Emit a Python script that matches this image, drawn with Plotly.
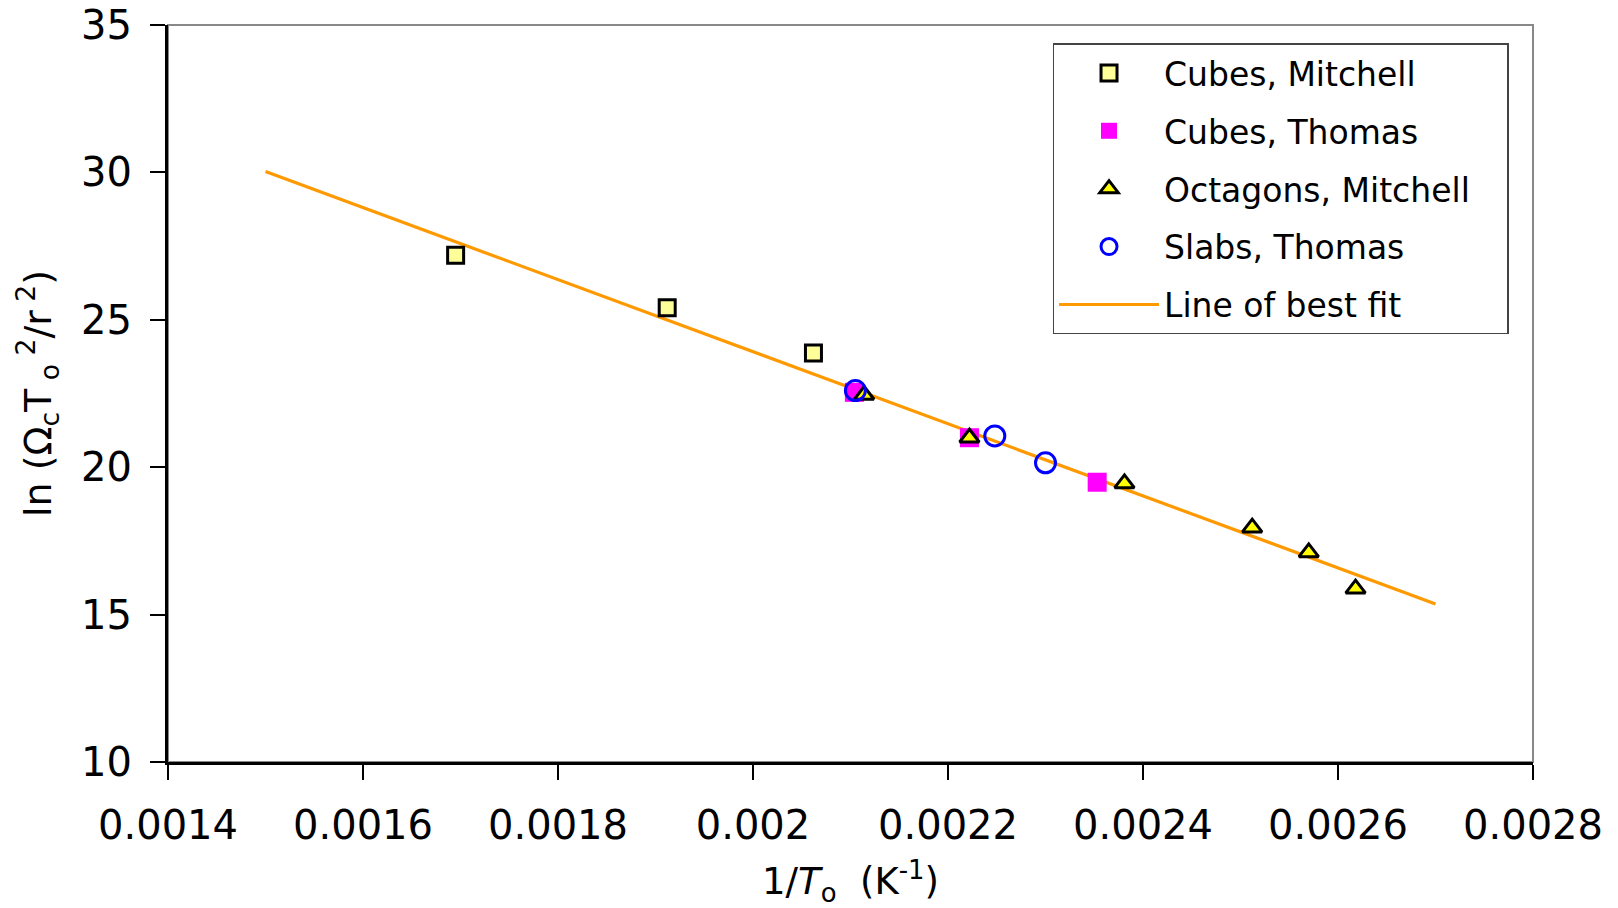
import plotly.graph_objects as go

# ---- data ----
cubes_mitchell_x = [0.001695, 0.001912, 0.002062]
cubes_mitchell_y = [27.19, 25.41, 23.87]

cubes_thomas_x = [0.002104, 0.002222, 0.002353]
cubes_thomas_y = [22.54, 21.0, 19.49]

octagons_mitchell_x = [0.002114, 0.002222, 0.002381, 0.002512, 0.002570, 0.002618]
octagons_mitchell_y = [22.45, 21.0, 19.45, 17.95, 17.11, 15.88]

slabs_thomas_x = [0.002105, 0.002248, 0.002300]
slabs_thomas_y = [22.60, 21.06, 20.15]

fit_x = [0.0015, 0.0027]
fit_y = [30.03, 15.36]

x_tickvals = [0.0014, 0.0016, 0.0018, 0.0020, 0.0022, 0.0024, 0.0026, 0.0028]
x_ticktext = ["0.0014", "0.0016", "0.0018", "0.002", "0.0022", "0.0024", "0.0026", "0.0028"]
y_tickvals = [10, 15, 20, 25, 30, 35]

FONT = "DejaVu Sans"

fig = go.Figure()

fig.add_trace(go.Scatter(
    x=fit_x, y=fit_y, mode="lines", name="Line of best fit",
    line=dict(color="#FF9900", width=3.2), legendrank=5, legendgroup="e"))

fig.add_trace(go.Scatter(
    x=cubes_mitchell_x, y=cubes_mitchell_y, mode="markers", name="Cubes, Mitchell",
    marker=dict(symbol="square", size=16, color="#FFFF99",
                line=dict(color="black", width=3)),
    legendrank=1, legendgroup="a"))

fig.add_trace(go.Scatter(
    x=cubes_thomas_x, y=cubes_thomas_y, mode="markers", name="Cubes, Thomas",
    marker=dict(symbol="square", size=19, color="#FF00FF",
                line=dict(width=0)),
    legendrank=2, legendgroup="b"))

fig.add_trace(go.Scatter(
    x=octagons_mitchell_x, y=octagons_mitchell_y, mode="markers", name="Octagons, Mitchell\u00a0\u00a0\u00a0",
    marker=dict(symbol="triangle-up", size=17, color="#FFFF00",
                line=dict(color="black", width=3)),
    legendrank=3, legendgroup="c"))

fig.add_trace(go.Scatter(
    x=slabs_thomas_x, y=slabs_thomas_y, mode="markers", name="Slabs, Thomas",
    marker=dict(symbol="circle-open", size=20, color="#0000FF",
                line=dict(color="#0000FF", width=3)),
    legendrank=4, legendgroup="d"))

# gray frame (top & right)
fig.add_shape(type="rect", xref="paper", yref="paper", x0=0, y0=0, x1=1, y1=1,
              line=dict(color="#888888", width=2), layer="below")

fig.update_layout(
    width=1618, height=908,
    margin=dict(l=168, r=85, t=25, b=146, autoexpand=False),
    paper_bgcolor="white", plot_bgcolor="white",
    font=dict(family=FONT, color="black"),
    showlegend=True,
    legend=dict(
        x=0.648, y=0.975, xanchor="left", yanchor="top",
        bgcolor="white", bordercolor="#444444", borderwidth=1.5,
        font=dict(family=FONT, size=33, color="black"),
        tracegroupgap=12, traceorder="grouped", itemwidth=100,
    ),
    xaxis=dict(
        range=[0.0014, 0.0028], tickvals=x_tickvals, ticktext=x_ticktext,
        showgrid=False, zeroline=False, automargin=False,
        showline=True, linecolor="black", linewidth=3,
        ticks="outside", ticklen=15, tickwidth=2, tickcolor="black",
        tickfont=dict(family=FONT, size=40, color="black"),
        ticklabelstandoff=11,
        title=dict(text="1/<i>T</i><sub>o</sub>  (K<sup>-1</sup>)",
                   font=dict(family=FONT, size=37, color="black"), standoff=24),
    ),
    yaxis=dict(
        range=[10, 35], tickvals=y_tickvals,
        showgrid=False, zeroline=False, automargin=False,
        showline=True, linecolor="black", linewidth=3,
        ticks="outside", ticklen=15, tickwidth=2, tickcolor="black",
        tickfont=dict(family=FONT, size=40, color="black"),
        ticklabelstandoff=10,
        title=dict(text="ln (Ω<sub>c</sub>T<sub> o</sub><sup> 2</sup>/r<sup> 2</sup>)",
                   font=dict(family=FONT, size=38, color="black"), standoff=18),
    ),
)

fig.write_html("out.html")
